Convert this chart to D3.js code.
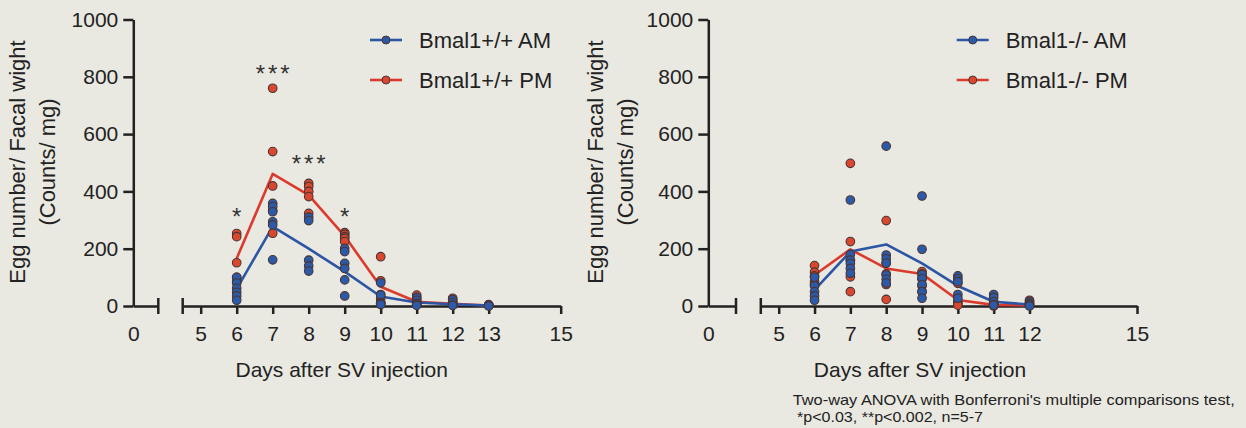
<!DOCTYPE html>
<html><head><meta charset="utf-8">
<script src="https://cdn.jsdelivr.net/npm/d3@7"></script>
<style>
html,body{margin:0;padding:0;background:#e9e8e1;}
svg{display:block;font-family:"Liberation Sans",Arial,Helvetica,sans-serif;}
</style></head><body>
<svg id="chart" width="1246" height="428"></svg>
<script>
// ---------- data ----------
const yTicks = [0, 200, 400, 600, 800, 1000];
const leftXTicks = [5, 6, 7, 8, 9, 10, 11, 12, 13, 15];
const rightXTicks = [5, 6, 7, 8, 9, 10, 11, 12, 15];
const leftDays = [6, 7, 8, 9, 10, 11, 12, 13];
const rightDays = [6, 7, 8, 9, 10, 11, 12];

const leftAmPoints = [
  [100, 80, 62, 48, 35, 20],
  [358, 347, 329, 294, 283, 161],
  [310, 298, 160, 140, 122],
  [201, 190, 149, 131, 91, 35],
  [81, 38, 12, 9, 5],
  [30, 20, 9, 5, 2],
  [22, 12, 3, 2],
  [5, 2, 0]
];
const leftPmPoints = [
  [253, 242, 151, 100, 85],
  [760, 539, 419, 333, 254],
  [428, 417, 400, 382, 323],
  [256, 250, 242, 236, 225],
  [172, 88, 40, 25, 10],
  [38, 27, 15, 8, 5],
  [27, 15, 8, 3],
  [3, 2]
];
const leftAmMean = [60, 277, 200, 120, 33, 12, 6, 2];
const leftPmMean = [166, 461, 387, 244, 67, 15, 8, 2];

const rightAmPoints = [
  [100, 70, 50, 35, 20],
  [370, 180, 160, 148, 131, 114],
  [558, 178, 165, 150, 108, 93, 80],
  [384, 198, 110, 95, 75, 50, 27],
  [105, 95, 85, 40, 27],
  [40, 30, 15, 5, 3],
  [15, 8, 3, 0]
];
const rightPmPoints = [
  [141, 118, 105, 85, 75],
  [498, 225, 160, 102, 50],
  [298, 150, 112, 75, 23],
  [120, 112, 95, 70, 50],
  [79, 15, 8, 3],
  [10, 3, 2, 0],
  [20, 10, 2]
];
const rightAmMean = [56, 190, 215, 149, 70, 15, 5];
const rightPmMean = [108, 198, 131, 112, 21, 4, 2];

const sigDays = [6, 7, 8, 9];
const sigLabels = ["*", "***", "***", "*"];
const sigHeights = [330, 830, 515, 330];

const yTitle1 = "Egg number/ Facal wight";
const yTitle2 = "(Counts/ mg)";
const xTitle = "Days after SV injection";
const footnote1 = "Two-way ANOVA with Bonferroni's multiple comparisons test,";
const footnote2 = "*p<0.03, **p<0.002, n=5-7";

// ---------- style ----------
const RED = "#db3b2d", BLUE = "#2c55a4";
const RED_FILL = "#d9472f", BLUE_FILL = "#2b5ba8";
const AXIS = "#222";
const FONT = "'Liberation Sans', Arial, Helvetica, sans-serif";
const svg = d3.select("#chart");

function drawPanel(cfg) {
  const g = svg.append("g");
  const y = d3.scaleLinear().domain([0, 1000]).range([306, 19.5]);
  const x = d3.scaleLinear().domain([4.5, 15]).range(cfg.xRange);
  const x0 = d3.scaleLinear().domain([0, 1]).range([cfg.axisX, cfg.segEnd]);

  // y axis
  const ya = g.append("g").attr("transform", `translate(${cfg.axisX},0)`)
    .call(d3.axisLeft(y).tickValues(yTicks).tickFormat(d3.format("d"))
      .tickSize(10).tickSizeOuter(0).tickPadding(5));
  ya.selectAll("path,line").attr("stroke", AXIS).attr("stroke-width", 2.5);
  ya.selectAll("text").attr("font-size", 21).attr("fill", AXIS).attr("font-family", FONT);

  // x axis segment 1 (0)
  const xa0 = g.append("g").attr("transform", "translate(0,306)")
    .call(d3.axisBottom(x0).tickValues([0]).tickFormat(d3.format("d"))
      .tickSize(0).tickSizeOuter(0).tickPadding(20));
  xa0.selectAll("path").attr("stroke", AXIS).attr("stroke-width", 2.5);
  xa0.selectAll("text").attr("font-size", 21).attr("fill", AXIS).attr("font-family", FONT);
  g.append("line").attr("x1", x0(1)).attr("x2", x0(1)).attr("y1", 298).attr("y2", 314)
    .attr("stroke", AXIS).attr("stroke-width", 2.5);

  // x axis segment 2
  const xa = g.append("g").attr("transform", "translate(0,306)")
    .call(d3.axisBottom(x).tickValues(cfg.xTicks).tickFormat(d3.format("d"))
      .tickSize(8).tickSizeOuter(0).tickPadding(12));
  xa.selectAll("path,line").attr("stroke", AXIS).attr("stroke-width", 2.5);
  xa.selectAll("text").attr("font-size", 21).attr("fill", AXIS).attr("font-family", FONT);
  g.append("line").attr("x1", x(4.5)).attr("x2", x(4.5)).attr("y1", 298).attr("y2", 314)
    .attr("stroke", AXIS).attr("stroke-width", 2.5);

  // axis titles
  g.append("text").attr("x", cfg.xTitleX).attr("y", 377).attr("text-anchor", "middle")
    .attr("font-size", 21).attr("fill", AXIS).text(xTitle);
  g.append("text").attr("transform", `translate(${cfg.yTitleX1},162) rotate(-90)`)
    .attr("text-anchor", "middle").attr("font-size", 22).attr("fill", AXIS).text(yTitle1);
  g.append("text").attr("transform", `translate(${cfg.yTitleX2},162) rotate(-90)`)
    .attr("text-anchor", "middle").attr("font-size", 22).attr("fill", AXIS).text(yTitle2);

  // lines
  const line = d3.line().x(d => x(d[0])).y(d => y(d[1]));
  const series = [
    {pts: cfg.pm, mean: cfg.pmMean, color: RED, fill: RED_FILL},
    {pts: cfg.am, mean: cfg.amMean, color: BLUE, fill: BLUE_FILL}
  ];
  series.forEach(s => {
    g.append("path").datum(cfg.days.map((d, i) => [d, s.mean[i]]))
      .attr("d", line).attr("fill", "none").attr("stroke", s.color)
      .attr("stroke-width", 2.6).attr("stroke-linejoin", "round");
  });
  series.forEach(s => {
    const flat = [];
    cfg.days.forEach((d, i) => s.pts[i].forEach(v => flat.push([d, v])));
    g.append("g").selectAll("circle").data(flat).join("circle")
      .attr("cx", d => x(d[0])).attr("cy", d => y(d[1])).attr("r", 4.3)
      .attr("fill", s.fill).attr("stroke", "#4a3434").attr("stroke-width", 1.1);
  });

  // legend
  const lg = g.append("g");
  cfg.legend.forEach((lab, i) => {
    const ly = 40 + i * 40;
    const col = i === 0 ? BLUE : RED;
    const fil = i === 0 ? BLUE_FILL : RED_FILL;
    lg.append("line").attr("x1", cfg.legX).attr("x2", cfg.legX + 32).attr("y1", ly).attr("y2", ly)
      .attr("stroke", col).attr("stroke-width", 2.6);
    lg.append("circle").attr("cx", cfg.legX + 16).attr("cy", ly).attr("r", 4)
      .attr("fill", fil).attr("stroke", "#4a3434").attr("stroke-width", 1);
    lg.append("text").attr("x", cfg.legX + 49).attr("y", ly + 8).attr("font-size", 22)
      .attr("fill", AXIS).text(lab);
  });

  // significance
  if (cfg.sig) {
    sigDays.forEach((d, i) => {
      const lab = sigLabels[i];
      const t = g.append("text").attr("y", y(sigHeights[i]) + 14).attr("font-size", 24)
        .attr("fill", "#333").attr("letter-spacing", 3).text(lab);
      const w = t.node().getComputedTextLength() - 3;
      t.attr("x", x(d) - w / 2);
    });
  }
}

drawPanel({
  axisX: 133.3, segEnd: 158.3, xRange: [182.7, 560.7], xTicks: leftXTicks,
  days: leftDays, am: leftAmPoints, pm: leftPmPoints, amMean: leftAmMean, pmMean: leftPmMean,
  xTitleX: 341.7, yTitleX1: 25, yTitleX2: 55,
  legend: ["Bmal1+/+ AM", "Bmal1+/+ PM"], legX: 370, sig: true
});
drawPanel({
  axisX: 708.3, segEnd: 736, xRange: [760.8, 1137], xTicks: rightXTicks,
  days: rightDays, am: rightAmPoints, pm: rightPmPoints, amMean: rightAmMean, pmMean: rightPmMean,
  xTitleX: 920, yTitleX1: 603, yTitleX2: 633,
  legend: ["Bmal1-/- AM", "Bmal1-/- PM"], legX: 956.7, sig: false
});

svg.append("text").attr("x", 792.7).attr("y", 405).attr("font-size", 14.5).attr("fill", AXIS)
  .attr("textLength", 442).attr("lengthAdjust", "spacingAndGlyphs").text(footnote1);
svg.append("text").attr("x", 797).attr("y", 421.5).attr("font-size", 14.5).attr("fill", AXIS)
  .attr("textLength", 186).attr("lengthAdjust", "spacingAndGlyphs").text(footnote2);
</script>
</body></html>
